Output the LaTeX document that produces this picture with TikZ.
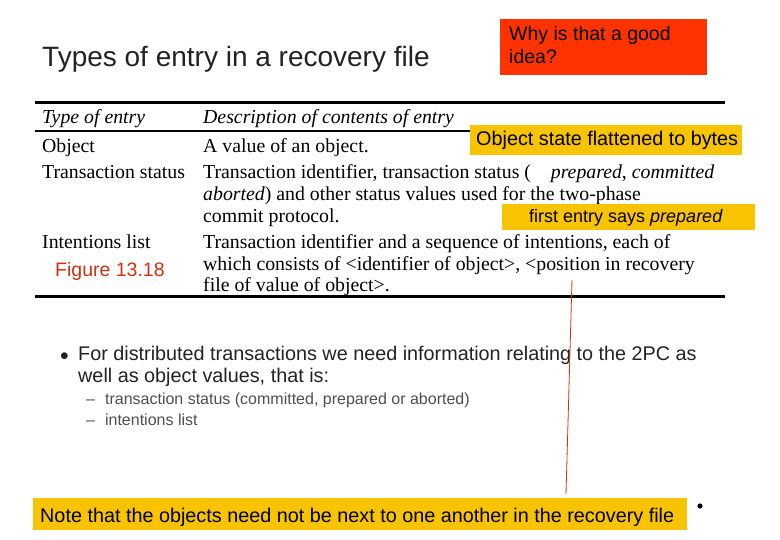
\documentclass[tikz,border=0pt]{standalone}
\usepackage{fontspec}
\setmainfont{Liberation Serif}
\setsansfont{Liberation Sans}
\definecolor{org}{HTML}{FF3300}
\definecolor{yel}{HTML}{F8C300}
\definecolor{fig}{HTML}{D03010}
\definecolor{txt}{HTML}{222222}
\begin{document}
\begin{tikzpicture}[x=1pt,y=-1pt,
  tt/.style={anchor=base west,inner sep=0pt,font=\fontsize{19.8}{20}\selectfont},
  it/.style={tt,font=\fontsize{19.8}{20}\selectfont\itshape},
  ybox/.style={fill=yel,inner sep=0pt,anchor=north west},
  rule/.style={line width=3pt}]
\useasboundingbox (0,0) rectangle (780,540);
\node[anchor=base west,inner sep=0pt,font=\sffamily\fontsize{28}{28}\selectfont,text=txt] (title) at (42,67) {Types of entry in a recovery file};
\node[ybox,fill=org,minimum width=207pt,minimum height=56pt] (why) at (500,19) {};
\node[anchor=north west,inner sep=0pt,align=left,font=\sffamily\fontsize{19.5}{23}\selectfont] (whyt) at (509,26) {Why is that a good\\idea?};
\draw[rule] (35,103) -- (725,103);
\draw[line width=2pt] (35,131) -- (470,131);
\draw[rule] (35,297) -- (725,297);
\node[it] (h1) at (42,124) {Type of entry};
\node[it] (h2) at (203,124) {Description of contents of entry};
\node[ybox,minimum width=272pt,minimum height=30pt] (yb1) at (470,125) {};
\node[anchor=base west,inner sep=0pt,font=\sffamily\fontsize{19.8}{20}\selectfont] (yb1t) at (476,146) {Object state flattened to bytes};
\node[tt] (r1a) at (42,153) {Object};
\node[tt] (r1b) at (203,153) {A value of an object.};
\node[tt] (r2a) at (42,179) {Transaction status};
\node[tt] (r2b) at (203,179) {Transaction identifier, transaction status (\quad\textit{prepared}, \textit{committed}};
\node[tt] (r2c) at (203,201) {\textit{aborted}) and other status values used for the two-phase};
\node[tt] (r2d) at (203,223) {commit protocol.};
\node[ybox,minimum width=253pt,minimum height=26pt] (yb2) at (502,204) {};
\node[anchor=base west,inner sep=0pt,font=\sffamily\fontsize{18}{18}\selectfont] (yb2t) at (529,223) {first entry says \textit{prepared}};
\node[tt] (r3a) at (42,249) {Intentions list};
\node[tt] (r3b) at (203,249) {Transaction identifier and a sequence of intentions, each of};
\node[anchor=base west,inner sep=0pt,font=\sffamily\fontsize{19.5}{20}\selectfont,text=fig] (figt) at (55,277) {Figure 13.18};
\node[tt] (r3c) at (203,271) {which consists of <identifier of object>, <position in recovery};
\node[tt] (r3d) at (203,292) {file of value of object>.};
\node[anchor=base west,inner sep=0pt,font=\sffamily\fontsize{16}{16}\selectfont,text=txt] (b1) at (60,360) {$\bullet$};
\node[anchor=base west,inner sep=0pt,font=\sffamily\fontsize{19.8}{22}\selectfont,text=txt] (bt) at (78,360) {For distributed transactions we need information relating to the 2PC as};
\node[anchor=base west,inner sep=0pt,font=\sffamily\fontsize{19.8}{22}\selectfont,text=txt] (bt2) at (78,382) {well as object values, that is:};
\node[anchor=base west,inner sep=0pt,font=\sffamily\fontsize{16}{16}\selectfont,text=txt!80] (s1) at (86,404) {--\hspace{10pt}transaction status (committed, prepared or aborted)};
\node[anchor=base west,inner sep=0pt,font=\sffamily\fontsize{16}{16}\selectfont,text=txt!80] (s2) at (86,425) {--\hspace{10pt}intentions list};
\node[ybox,minimum width=654pt,minimum height=32pt] (yb3) at (33,498) {};
\node[anchor=base west,inner sep=0pt,font=\sffamily\fontsize{19.8}{20}\selectfont] (yb3t) at (40,522) {Note that the objects need not be next to one another in the recovery file};
\coordinate (lt) at (572,280);
\coordinate (lb) at (566,494);
\draw[fig,line width=0.8pt] (lt) -- (lb);
\fill (700,506) circle (2.6pt);
\end{tikzpicture}
\end{document}
